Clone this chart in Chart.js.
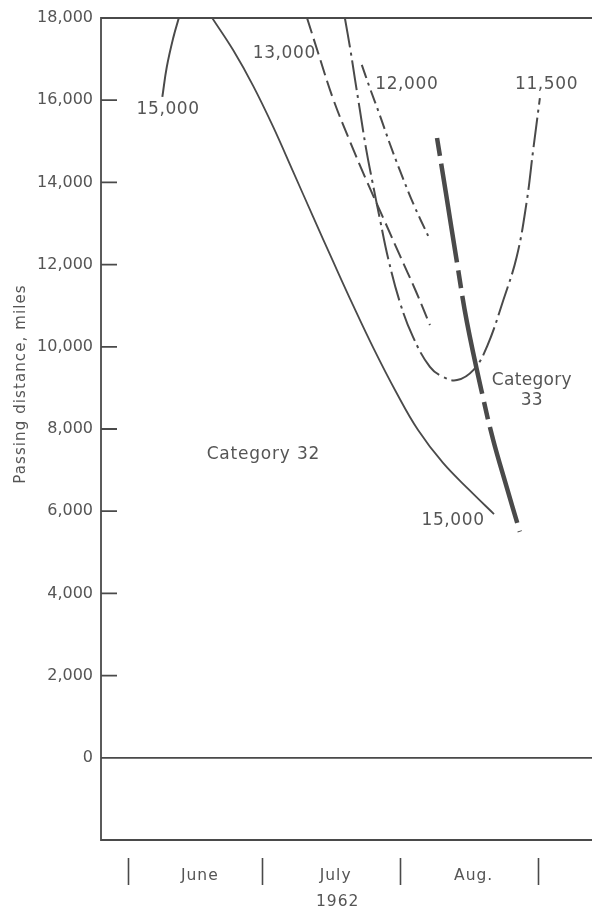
<!DOCTYPE html>
<html>
<head>
<meta charset="utf-8">
<script src="https://cdn.jsdelivr.net/npm/chart.js@4.4.1/dist/chart.umd.min.js"></script>
<style>
  html, body { margin: 0; padding: 0; background: #ffffff; }
  canvas { display: block; }
</style>
</head>
<body>
<canvas id="chart" width="592" height="913"></canvas>
<script>
// Time axis: days counted from 1 June 1962
const monthEdges = [0, 30, 61, 92];
const monthNames = ['June', 'July', 'Aug.'];
const yearLabel = '1962';
const yAxisTitle = 'Passing distance, miles';

// Passing-distance ticks, miles
const yMin = -2000;
const yMax = 18000;
const yStep = 2000;

// 15,000 curve, short branch rising to the top of the frame
const c15aDays  = [7.7, 8.7, 10.2, 11.4];
const c15aMiles = [16080, 16810, 17540, 18000];

// 15,000 curve, long branch falling from the top of the frame
const c15bDays  = [18.9, 23.6, 28.1, 32.6, 37.0, 41.5, 46.0, 50.5, 55.2, 60.2, 65.1, 70.7, 76.8, 82.2];
const c15bMiles = [18000, 17220, 16350, 15350, 14280, 13180, 12090, 11020, 9950, 8900, 7980, 7180, 6500, 5930];

// 13,000 curve (dashed)
const c13Days  = [40.2, 42.7, 46.0, 49.9, 53.7, 57.5, 61.1, 64.7, 67.8];
const c13Miles = [18000, 17150, 16050, 14980, 14010, 13090, 12210, 11340, 10530];

// 12,000 curve (dash-dot)
const c12Days  = [52.5, 54.3, 56.6, 58.8, 61.1, 64.2, 67.4];
const c12Miles = [16860, 16300, 15620, 14940, 14280, 13450, 12700];

// 11,500 curve (long dash-dot, U shaped)
const c115Days  = [48.7, 49.9, 51.0, 52.1, 53.4, 54.8, 56.6, 58.4, 61.1, 64.0, 67.8, 70.7, 73.9, 77.6, 80.6, 84.3, 87.3, 89.5, 91.0, 92.5];
const c115Miles = [18000, 17250, 16490, 15740, 14860, 14060, 13090, 12160, 11070, 10240, 9510, 9270, 9190, 9440, 10000, 11140, 12190, 13500, 14790, 16050];

// Heavy boundary line between the categories
const boundaryDays  = [69.4, 71.4, 73.9, 76.1, 79.7, 82.0, 84.9, 88.0];
const boundaryMiles = [15080, 13740, 12040, 10610, 8780, 7740, 6640, 5500];

// Text placed inside the plot, anchored in data units
const curveLabels = [
  { text: '15,000', day: 9.0,  miles: 15760, size: 17, spacing: 0.6 },
  { text: '13,000', day: 35.1, miles: 17140, size: 17, spacing: 0.6 },
  { text: '12,000', day: 62.6, miles: 16390, size: 17, spacing: 0.6 },
  { text: '11,500', day: 94.0, miles: 16370, size: 17, spacing: 0.6 },
  { text: '15,000', day: 73.0, miles: 5770,  size: 17, spacing: 0.6 },
  { text: 'Category 32', day: 30.4, miles: 7370, size: 17, spacing: 0.8 },
  { text: 'Category', day: 90.7, miles: 9170, size: 17, spacing: 0.3 },
  { text: '33', day: 90.7, miles: 8680, size: 17, spacing: 0.3 }
];

const INK = '#4a4a4a';
const TEXT = '#555555';
const FONT = '"DejaVu Sans", "Noto Sans", sans-serif';

const pts = (xs, ys) => xs.map((x, i) => ({ x: x, y: ys[i] }));

function curve(xs, ys, width, dash) {
  return {
    data: pts(xs, ys),
    borderColor: INK,
    borderWidth: width,
    borderDash: dash,
    borderCapStyle: 'butt',
    pointRadius: 0,
    pointHoverRadius: 0,
    fill: false,
    tension: 0.4
  };
}

// Frame, zero line and inward tick marks
const framePlugin = {
  id: 'frame',
  beforeDatasetsDraw(chart) {
    const { ctx, chartArea: a, scales: { y } } = chart;
    ctx.save();
    ctx.strokeStyle = INK;
    ctx.lineWidth = 1.8;
    ctx.beginPath();
    ctx.moveTo(a.right + 2, a.top);
    ctx.lineTo(a.left, a.top);
    ctx.lineTo(a.left, a.bottom);
    ctx.lineTo(a.right + 2, a.bottom);
    const y0 = y.getPixelForValue(0);
    ctx.moveTo(a.left, y0);
    ctx.lineTo(a.right + 2, y0);
    y.ticks.forEach(t => {
      if (t.value === 0 || t.value === yMin || t.value === yMax) return;
      const py = y.getPixelForValue(t.value);
      ctx.moveTo(a.left, py);
      ctx.lineTo(a.left + 16, py);
    });
    ctx.stroke();
    ctx.restore();
  },
  afterDraw(chart) {
    const { ctx, chartArea: a, scales: { x, y } } = chart;
    ctx.save();
    ctx.fillStyle = TEXT;
    ctx.textAlign = 'center';
    ctx.textBaseline = 'middle';

    // labels inside the plot
    curveLabels.forEach(l => {
      ctx.font = l.size + 'px ' + FONT;
      ctx.letterSpacing = l.spacing + 'px';
      ctx.fillText(l.text, x.getPixelForValue(l.day), y.getPixelForValue(l.miles));
    });

    // month separators and names under the frame
    ctx.strokeStyle = INK;
    ctx.lineWidth = 1.6;
    ctx.beginPath();
    monthEdges.forEach(d => {
      const px = Math.round(x.getPixelForValue(d)) + 0.5;
      ctx.moveTo(px, a.bottom + 18);
      ctx.lineTo(px, a.bottom + 45);
    });
    ctx.stroke();

    ctx.font = '15.5px ' + FONT;
    ctx.letterSpacing = '1px';
    const mids = monthNames.map((m, i) =>
      (x.getPixelForValue(monthEdges[i]) + x.getPixelForValue(monthEdges[i + 1])) / 2 + 5);
    monthNames.forEach((m, i) => ctx.fillText(m, mids[i], a.bottom + 36));
    ctx.fillText(yearLabel, mids[1] + 2, a.bottom + 62);

    // vertical axis title
    ctx.font = '15px ' + FONT;
    ctx.letterSpacing = '1.1px';
    ctx.translate(21, a.top + 366);
    ctx.rotate(-Math.PI / 2);
    ctx.fillText(yAxisTitle, 0, 0);
    ctx.restore();
  }
};

new Chart(document.getElementById('chart'), {
  type: 'line',
  data: {
    datasets: [
      curve(c15aDays, c15aMiles, 2, []),
      curve(c15bDays, c15bMiles, 1.8, []),
      curve(c13Days, c13Miles, 2, [16, 6]),
      curve(c12Days, c12Miles, 2, [14, 5, 3, 5]),
      curve(c115Days, c115Miles, 2, [30, 5, 3, 5]),
      curve(boundaryDays, boundaryMiles, 4.5, [18, 8, 100, 8])
    ]
  },
  options: {
    responsive: false,
    devicePixelRatio: 1,
    animation: false,
    events: [],
    layout: { padding: { top: 18, bottom: 73, left: 0, right: 0 } },
    plugins: { legend: { display: false }, tooltip: { enabled: false } },
    scales: {
      x: {
        type: 'linear',
        display: false,
        min: -6.08,
        max: 104.21
      },
      y: {
        type: 'linear',
        min: yMin,
        max: yMax,
        afterFit(scale) { scale.width = 101; },
        grid: { drawOnChartArea: false, drawTicks: false },
        border: { display: false },
        ticks: {
          stepSize: yStep,
          padding: 8,
          color: TEXT,
          font: { family: FONT, size: 16 },
          callback: v => (v === yMin ? '' : v.toLocaleString('en-US'))
        }
      }
    }
  },
  plugins: [framePlugin]
});
</script>
</body>
</html>
